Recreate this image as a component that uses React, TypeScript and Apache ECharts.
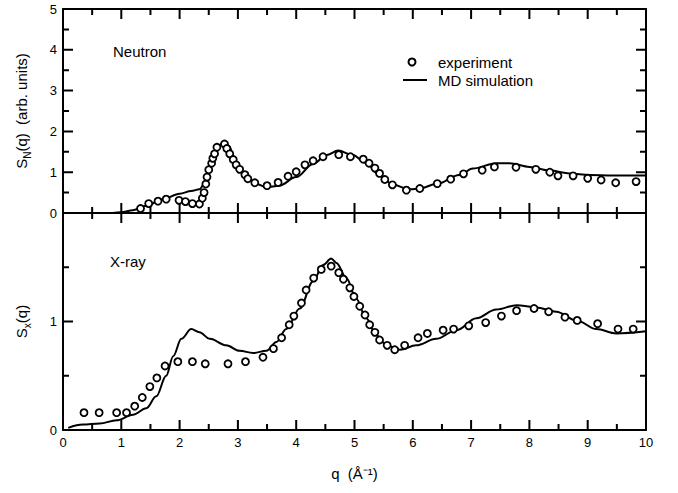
import React, { useEffect, useRef } from "react";
import * as echarts from "echarts";

// ---- Data ----
const neutronExpQ = [1.33, 1.47, 1.63, 1.77, 1.99, 2.1, 2.22, 2.34, 2.39, 2.42, 2.45, 2.47, 2.5, 2.55, 2.57, 2.6, 2.64, 2.77, 2.81, 2.86, 2.92, 2.97, 3.03, 3.12, 3.17, 3.29, 3.5, 3.69, 3.86, 4.0, 4.15, 4.29, 4.46, 4.73, 4.93, 5.15, 5.25, 5.35, 5.43, 5.52, 5.65, 5.89, 6.12, 6.42, 6.65, 6.87, 7.19, 7.4, 7.77, 8.11, 8.35, 8.49, 8.75, 9.0, 9.23, 9.48, 9.83];
const neutronExpS = [0.11, 0.23, 0.29, 0.34, 0.31, 0.28, 0.23, 0.22, 0.36, 0.5, 0.71, 0.88, 1.06, 1.22, 1.34, 1.45, 1.61, 1.69, 1.58, 1.45, 1.31, 1.18, 1.07, 0.94, 0.84, 0.74, 0.67, 0.75, 0.9, 1.01, 1.18, 1.28, 1.38, 1.43, 1.38, 1.32, 1.22, 1.1, 0.97, 0.82, 0.69, 0.56, 0.6, 0.72, 0.83, 0.96, 1.05, 1.13, 1.12, 1.07, 1.0, 0.91, 0.91, 0.85, 0.81, 0.74, 0.77];

const neutronMdQ = [0.85, 1.0, 1.2, 1.43, 1.72, 2.0, 2.2, 2.34, 2.43, 2.52, 2.6, 2.69, 2.77, 2.85, 2.93, 3.03, 3.17, 3.3, 3.49, 3.71, 4.0, 4.29, 4.52, 4.72, 4.97, 5.2, 5.43, 5.66, 5.95, 6.12, 6.4, 6.8, 7.03, 7.43, 7.66, 8.0, 8.35, 8.69, 9.03, 9.43, 10.0];
const neutronMdS = [0, 0.02, 0.07, 0.18, 0.34, 0.47, 0.54, 0.58, 0.72, 1.12, 1.46, 1.67, 1.74, 1.64, 1.38, 1.1, 0.84, 0.72, 0.63, 0.67, 0.88, 1.2, 1.42, 1.53, 1.42, 1.22, 0.93, 0.69, 0.58, 0.6, 0.71, 0.93, 1.09, 1.22, 1.22, 1.13, 1.04, 0.97, 0.93, 0.92, 0.92];

const xrayExpQ = [0.36, 0.62, 0.92, 1.09, 1.23, 1.36, 1.49, 1.61, 1.75, 1.97, 2.22, 2.44, 2.83, 3.13, 3.43, 3.61, 3.75, 3.88, 3.96, 4.09, 4.17, 4.3, 4.43, 4.6, 4.73, 4.81, 4.92, 4.99, 5.09, 5.18, 5.26, 5.35, 5.43, 5.56, 5.69, 5.86, 6.09, 6.25, 6.52, 6.7, 6.96, 7.25, 7.52, 7.78, 8.08, 8.33, 8.61, 8.82, 9.17, 9.52, 9.78];
const xrayExpS = [0.16, 0.16, 0.16, 0.16, 0.22, 0.3, 0.4, 0.48, 0.59, 0.63, 0.63, 0.61, 0.61, 0.63, 0.67, 0.75, 0.85, 0.97, 1.05, 1.17, 1.29, 1.4, 1.48, 1.51, 1.45, 1.39, 1.31, 1.23, 1.14, 1.06, 0.97, 0.9, 0.83, 0.78, 0.74, 0.78, 0.85, 0.89, 0.92, 0.93, 0.96, 0.99, 1.05, 1.1, 1.12, 1.09, 1.04, 1.01, 0.98, 0.93, 0.93];

const xrayMdQ = [0.09, 0.34, 0.63, 0.92, 1.2, 1.43, 1.6, 1.77, 1.89, 2.03, 2.2, 2.34, 2.52, 2.8, 3.03, 3.26, 3.49, 3.66, 3.83, 4.06, 4.29, 4.46, 4.6, 4.69, 4.86, 5.03, 5.2, 5.38, 5.55, 5.78, 6.06, 6.4, 6.75, 7.09, 7.43, 7.78, 8.12, 8.46, 8.81, 9.15, 9.49, 10.0];
const xrayMdS = [0.02, 0.05, 0.06, 0.09, 0.14, 0.2, 0.31, 0.5, 0.68, 0.84, 0.93, 0.9, 0.84, 0.78, 0.73, 0.71, 0.73, 0.81, 0.93, 1.12, 1.37, 1.52, 1.58, 1.54, 1.4, 1.21, 1.03, 0.87, 0.78, 0.74, 0.78, 0.84, 0.92, 1.03, 1.11, 1.15, 1.13, 1.09, 1.01, 0.93, 0.89, 0.91];

// tick positions (major at integers, minor at halves)
const qTicks = [0, 0.5, 1, 1.5, 2, 2.5, 3, 3.5, 4, 4.5, 5, 5.5, 6, 6.5, 7, 7.5, 8, 8.5, 9, 9.5, 10];
const neutronTicks = [0, 0.5, 1, 1.5, 2, 2.5, 3, 3.5, 4, 4.5, 5];
const xrayTicks = [0, 0.5, 1, 1.5, 2];
const qMax = 10;
const neutronMax = 5;
const xrayMax = 2;

const seriesNames = ["experiment", "MD simulation"];
const panelLabels = ["Neutron", "X-ray"];

const FONT = "'Liberation Sans', Arial, Helvetica, sans-serif";

function zip(a: number[], b: number[]) {
  return a.map((v, i) => [v, b[i]]);
}

export default function App() {
  const ref = useRef<HTMLDivElement>(null);
  useEffect(() => {
    if (!ref.current) return;
    const chart = echarts.init(ref.current, undefined, { renderer: "svg" });
    const black = "#000";
    const MAJOR_PX = 10;
    const MINOR_PX = 6;
    const isMajor = (v: number) => Math.abs(v - Math.round(v)) < 1e-9;

    const grids = [
      { left: 63, top: 9, width: 583, height: 204 },
      { left: 63, top: 213, width: 583, height: 217 },
    ];

    // Tick marks drawn as a broken line series in data space, so the library's
    // scales place them. Pixel lengths are converted to data units per panel.
    const GAP: any = ["-", "-"];
    const tickData = (yMax: number, yTicks: number[], gridH: number) => {
      const perPxY = yMax / gridH;
      const perPxX = qMax / grids[0].width;
      const out: any[] = [];
      qTicks.forEach((q) => {
        const len = (isMajor(q) ? MAJOR_PX : MINOR_PX) * perPxY;
        out.push([q, 0], [q, len], GAP);
        out.push([q, yMax], [q, yMax - len], GAP);
      });
      yTicks.forEach((s) => {
        const len = (isMajor(s) ? MAJOR_PX : MINOR_PX) * perPxX;
        out.push([0, s], [len, s], GAP);
        out.push([qMax, s], [qMax - len, s], GAP);
      });
      return out;
    };

    const lineMain = { show: true, lineStyle: { color: black, width: 2 } };
    const lineMirror = { show: true, onZero: false, lineStyle: { color: black, width: 2 } };
    const xBase: any = {
      type: "value",
      min: 0,
      max: qMax,
      interval: 1,
      axisTick: { show: false },
      minorTick: { show: false },
      splitLine: { show: false },
      minorSplitLine: { show: false },
      axisLabel: { show: false },
    };
    const labelStyle = { color: black, fontFamily: FONT, fontSize: 13 };
    const richName = {
      m: { fontSize: 15, lineHeight: 22, fontFamily: FONT, color: black },
      s: { fontSize: 10, lineHeight: 10, verticalAlign: "bottom", fontFamily: FONT, color: black },
    };
    const yRight = (grid: number, max: number) => ({
      type: "value",
      gridIndex: grid,
      position: "right",
      min: 0,
      max,
      interval: 1,
      axisLine: lineMirror,
      axisTick: { show: false },
      minorTick: { show: false },
      splitLine: { show: false },
      minorSplitLine: { show: false },
      axisLabel: { show: false },
    });
    const expStyle = {
      symbol: "circle",
      symbolSize: 7,
      itemStyle: { color: "#fff", borderColor: black, borderWidth: 1.8, opacity: 1 },
      z: 3,
    };
    const mdStyle = {
      showSymbol: false,
      smooth: 0.35,
      smoothMonotone: "x",
      lineStyle: { color: black, width: 2 },
      z: 2,
    };
    const tickSeries = (axisIdx: number, data: any[]) => ({
      name: "ticks",
      type: "line",
      xAxisIndex: axisIdx,
      yAxisIndex: axisIdx,
      data,
      showSymbol: false,
      symbol: "none",
      connectNulls: false,
      clip: false,
      silent: true,
      lineStyle: { color: black, width: 2, cap: "butt" },
      z: 5,
    });

    const option: any = {
      animation: false,
      backgroundColor: "#fff",
      grid: grids,
      textStyle: { fontFamily: FONT },
      xAxis: [
        { ...xBase, gridIndex: 0, position: "bottom", axisLine: lineMain },
        { ...xBase, gridIndex: 0, position: "top", axisLine: lineMirror },
        {
          ...xBase,
          gridIndex: 1,
          position: "bottom",
          axisLine: lineMain,
          axisLabel: { show: true, margin: 6, ...labelStyle },
          name: "q  (Å⁻¹)",
          nameLocation: "middle",
          nameGap: 36,
          nameTextStyle: { color: black, fontFamily: FONT, fontSize: 15 },
        },
        { ...xBase, gridIndex: 1, position: "top", axisLine: lineMirror },
      ],
      yAxis: [
        {
          type: "value",
          gridIndex: 0,
          position: "left",
          min: 0,
          max: neutronMax,
          interval: 1,
          axisLine: lineMain,
          axisTick: { show: false },
          minorTick: { show: false },
          splitLine: { show: false },
          minorSplitLine: { show: false },
          axisLabel: { show: true, margin: 6, ...labelStyle },
          name: "{m|S}{s|N}{m|(q)  (arb. units)}",
          nameLocation: "middle",
          nameRotate: 90,
          nameGap: 31,
          nameTextStyle: { color: black, fontFamily: FONT, rich: richName },
        },
        yRight(0, neutronMax),
        {
          type: "value",
          gridIndex: 1,
          position: "left",
          min: 0,
          max: xrayMax,
          interval: 1,
          axisLine: lineMain,
          axisTick: { show: false },
          minorTick: { show: false },
          splitLine: { show: false },
          minorSplitLine: { show: false },
          axisLabel: {
            show: true,
            margin: 6,
            ...labelStyle,
            formatter: (v: number) => (v >= xrayMax ? "" : String(v)),
          },
          name: "{m|S}{s|x}{m|(q)}",
          nameLocation: "middle",
          nameRotate: 90,
          nameGap: 31,
          nameTextStyle: { color: black, fontFamily: FONT, rich: richName },
        },
        yRight(1, xrayMax),
      ],
      series: [
        {
          name: seriesNames[1],
          type: "line",
          xAxisIndex: 0,
          yAxisIndex: 0,
          data: zip(neutronMdQ, neutronMdS),
          ...mdStyle,
        },
        {
          name: seriesNames[0],
          type: "scatter",
          xAxisIndex: 0,
          yAxisIndex: 0,
          data: zip(neutronExpQ, neutronExpS),
          ...expStyle,
        },
        {
          name: seriesNames[1],
          type: "line",
          xAxisIndex: 2,
          yAxisIndex: 2,
          data: zip(xrayMdQ, xrayMdS),
          ...mdStyle,
        },
        {
          name: seriesNames[0],
          type: "scatter",
          xAxisIndex: 2,
          yAxisIndex: 2,
          data: zip(xrayExpQ, xrayExpS),
          ...expStyle,
        },
        tickSeries(0, tickData(neutronMax, neutronTicks, grids[0].height)),
        tickSeries(2, tickData(xrayMax, xrayTicks, grids[1].height)),
      ],
      graphic: [
        {
          type: "text",
          left: 113,
          top: 44,
          style: { text: panelLabels[0], fill: black, font: `15px ${FONT}` },
        },
        {
          type: "text",
          left: 110,
          top: 254,
          style: { text: panelLabels[1], fill: black, font: `15px ${FONT}` },
        },
        {
          type: "circle",
          shape: { cx: 412, cy: 62, r: 3.5 },
          style: { fill: "#fff", stroke: black, lineWidth: 2 },
        },
        {
          type: "line",
          shape: { x1: 403, y1: 80, x2: 427, y2: 80 },
          style: { stroke: black, lineWidth: 2 },
        },
        {
          type: "text",
          x: 438,
          y: 62,
          style: { text: seriesNames[0], fill: black, font: `15px ${FONT}`, verticalAlign: "middle" },
        },
        {
          type: "text",
          x: 438,
          y: 80,
          style: { text: seriesNames[1], fill: black, font: `15px ${FONT}`, verticalAlign: "middle" },
        },
      ],
    };
    chart.setOption(option);
    return () => chart.dispose();
  }, []);
  return (
    <div
      ref={ref}
      style={{ position: "fixed", left: 0, top: 0, width: 678, height: 493, background: "#fff" }}
    />
  );
}
